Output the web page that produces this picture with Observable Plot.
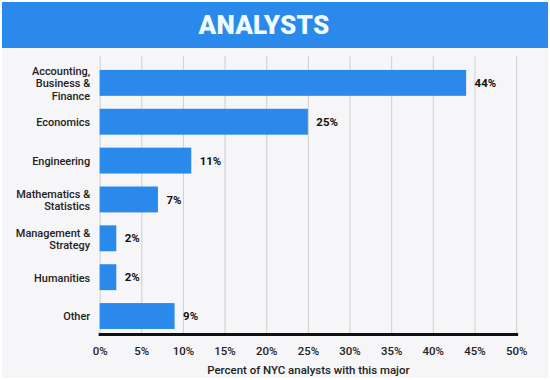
<!DOCTYPE html>
<html>
<head>
<meta charset="utf-8">
<script src="https://cdn.jsdelivr.net/npm/d3@7"></script>
<script src="https://cdn.jsdelivr.net/npm/@observablehq/plot@0.6"></script>
<style>
  html, body { margin: 0; padding: 0; }
  body { width: 550px; height: 380px; background: #ffffff; overflow: hidden; font-family: Roboto, "Noto Sans", sans-serif; }
  #wrap { position: absolute; left: 2px; top: 2px; width: 546px; height: 376px; background: #f6f5f7; }
  #header { height: 46px; background: #2b89eb; color: #f0fbff; font-family: Roboto, sans-serif; font-weight: 900; font-size: 26px; line-height: 47px; text-align: center; letter-spacing: 0.2px; padding-right: 22px; }
  #chart { position: absolute; left: -2px; top: 48px; }
</style>
</head>
<body>
<div id="wrap">
  <div id="header">ANALYSTS</div>
  <div id="chart"></div>
</div>
<script>
const majors = ["Accounting,\nBusiness &\nFinance", "Economics", "Engineering", "Mathematics &\nStatistics", "Management &\nStrategy", "Humanities", "Other"];
const shares = [44, 25, 11, 7, 2, 2, 9];
const xTicks = [0, 5, 10, 15, 20, 25, 30, 35, 40, 45, 50];
const xLabel = "Percent of NYC analysts with this major";

const data = majors.map((m, i) => ({major: m, share: shares[i]}));

const chart = Plot.plot({
  width: 550,
  height: 330,
  marginLeft: 100,
  marginRight: 32,
  marginTop: 6,
  marginBottom: 45,
  style: {background: "transparent", fontFamily: "Roboto, 'Noto Sans', sans-serif", color: "#222"},
  x: {domain: [0, 50], ticks: xTicks, tickFormat: d => d + "%", label: null},
  y: {domain: majors, paddingInner: 0.34, paddingOuter: 0.2, align: 0.75, label: null},
  marks: [
    Plot.gridX(xTicks, {stroke: "#cfcfcf", strokeOpacity: 1, strokeWidth: 1}),
    Plot.barX(data, {x: "share", y: "major", fill: "#2b89eb"}),
    Plot.text(data, {x: "share", y: "major", text: d => d.share + "%", textAnchor: "start", dx: 8, fontWeight: "bold", fontSize: 11.5, fill: "#111"}),
    Plot.frame({anchor: "bottom", stroke: "#111", strokeWidth: 3}),
    Plot.axisX(xTicks, {tickSize: 0, tickPadding: 12, fontSize: 11.5, fontWeight: 500, fill: "#222", tickFormat: d => d + "%", label: null}),
    Plot.axisY({tickSize: 0, tickPadding: 10, fontSize: 11, fontWeight: 500, fill: "#222", lineHeight: 1.12, label: null}),
    Plot.text([xLabel], {frameAnchor: "bottom", text: d => d, dy: 40, fontSize: 11.5, fontWeight: 500, fill: "#222"})
  ]
});
document.getElementById("chart").appendChild(chart);
</script>
</body>
</html>
